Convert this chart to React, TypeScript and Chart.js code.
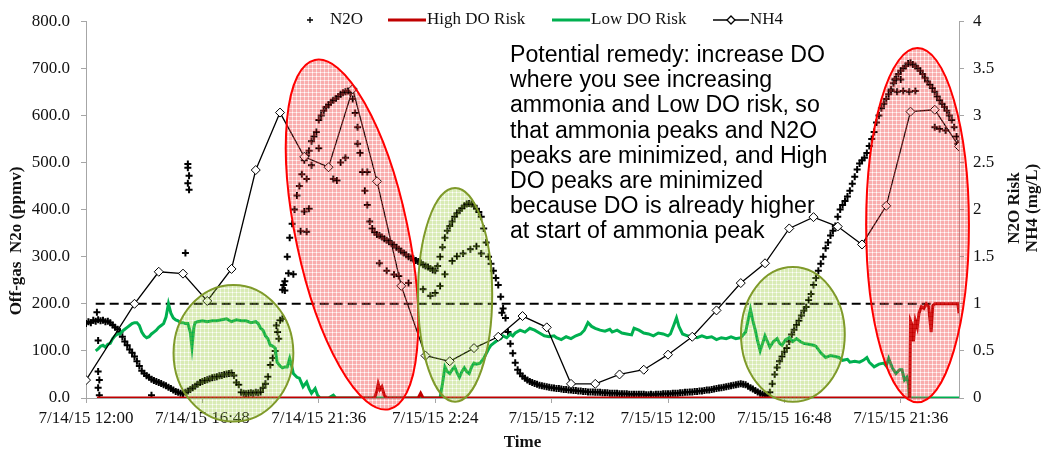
import React, { useEffect, useRef } from 'react';
import { Chart, registerables } from 'chart.js';

Chart.register(...registerables);

// Hours after 7/14/15 12:00
const xTickHours = [0, 4.8, 9.6, 14.4, 19.2, 24, 28.8, 33.6];

// N2O off-gas (ppmv), one reading every 0.1 h starting at hour 0
const n2oStart = 0;
const n2oStep = 0.1;
const n2oRegular = [
  158, 162, 160, 165, 163, 166, 164, 165, 162, 163,
  160, 155, 150, 146, 140, 130, 120, 112, 103, 96,
  88, 78, 68, 58, 52, 47, 44, 40, 37, 35,
  33, 31, 28, 26, 23, 20, 17, 14, 12, 10,
  9, 12, 15, 18, 22, 25, 29, 33, 35, 37,
  39, 41, 43, 44, 45, 47, 48, 50, 51, 52,
  53, 48, 33, 28, 12, 10, 9, 10, 11, 10,
  12, 11, 13, 22, 30, 45, 70, 85, 100, 140,
  165, 230, 248, 300, 340, 370, 400, 430, 450, 475,
  505, 515, 525, 545, 555, 565, 590, 600, 610, 618,
  622, 628, 632, 636, 640, 645, 648, 650, 652, 648,
  635, 605, 575, 520, 480, 440, 410, 375, 360, 352,
  347, 345, 342, 338, 335, 332, 328, 325, 320, 316,
  312, 308, 304, 300, 297, 295, 292, 290, 287, 283,
  280, 278, 275, 272, 270, 280, 300, 320, 340, 355,
  365, 375, 385, 392, 398, 403, 408, 412, 413, 412,
  408, 402, 395, 385, 360, 330, 300, 285, 270, 255,
  240, 215, 190, 170, 140, 115, 95, 75, 60, 52,
  46, 42, 38, 35, 33, 31, 29, 27, 26, 25,
  24, 23, 22, 21, 20, 20, 19, 18, 18, 17,
  17, 16, 16, 15, 15, 14, 14, 13, 13, 13,
  12, 12, 12, 11, 11, 11, 10, 10, 10, 10,
  9, 9, 9, 9, 8, 8, 8, 8, 8, 8,
  8, 7, 7, 8, 7, 8, 8, 8, 9, 9,
  9, 9, 10, 10, 10, 11, 11, 12, 12, 13,
  13, 14, 14, 15, 15, 16, 17, 17, 18, 19,
  20, 21, 22, 23, 24, 25, 26, 27, 28, 29,
  30, 29, 28, 25, 22, 19, 16, 13, 10, 8,
  6, 5, 12, 30, 50, 65, 78, 88, 98, 106,
  120, 135, 145, 155, 164, 175, 185, 193, 208, 221,
  240, 255, 270, 285, 300, 318, 330, 345, 355, 365,
  385, 400, 410, 418, 428, 440, 455, 470, 485, 498,
  505, 510, 520, 535, 550, 565, 585, 600, 615, 625,
  635, 645, 655, 668, 678, 688, 695, 700, 705, 710,
  712, 708, 705, 700, 695, 688, 680, 672, 665, 658,
  650, 640, 632, 625, 618, 610, 600, 590, 575, 555,
];

// Extra scattered N2O readings [hour, ppmv]
const n2oScatter: [number, number][] = [
  [0.45, 182], [0.5, 122], [0.5, 56], [0.55, 38], [0.5, 22], [0.55, 6], [2.7, 6],
  [4.1, 308], [4.2, 497], [4.2, 489], [4.25, 472], [4.2, 456], [4.25, 442],
  [7.85, 154], [7.95, 126], [8.1, 168], [8.15, 240], [8.2, 228], [8.35, 265], [8.55, 263],
  [8.85, 354], [9.0, 396], [9.1, 353], [9.2, 402], [9.3, 494], [9.1, 465], [9.6, 530],
  [10.2, 465], [10.35, 462], [10.5, 500], [10.7, 510], [11.2, 540], [11.6, 480],
  [12.1, 286], [12.4, 270], [12.7, 262], [12.9, 259], [13.3, 244],
  [13.9, 231], [14.2, 217], [14.4, 223], [14.6, 238], [14.8, 263], [15.1, 291],
  [15.3, 301], [15.55, 307], [15.85, 316], [16.1, 322], [16.3, 307], [17.15, 181],
  [33.2, 652], [33.45, 650], [33.7, 652], [33.95, 650], [34.2, 652], [33.35, 676], [33.6, 676],
  [35.0, 575], [35.2, 571], [35.45, 568], [35.95, 540],
];

// High DO risk [hour, risk]
const highDoRisk: [number, number][] = [
  [0.45, 0], [11.9, 0], [12.0, 0.08], [12.05, 0.15], [12.12, 0.09], [12.2, 0.12], [12.3, 0.03],
  [12.4, 0], [13.7, 0], [13.8, 0.05], [13.9, 0], [33.97, 0], [34.0, 0.82], [34.06, 0.78],
  [34.12, 0.6], [34.2, 0.82], [34.28, 0.75], [34.35, 0.9], [34.45, 0.97], [34.55, 0.95],
  [34.65, 1.0], [34.75, 0.97], [34.85, 0.7], [34.92, 0.98], [35.0, 1.0], [35.95, 1.0], [36.0, 0.9],
];

// Low DO risk [hour, risk]
const lowDoRisk: [number, number][] = [
  [0.4, 0.5], [0.5, 0.52], [0.6, 0.55], [0.7, 0.56], [0.8, 0.54], [0.9, 0.57], [1.0, 0.58],
  [1.1, 0.63], [1.2, 0.66], [1.3, 0.68], [1.4, 0.68], [1.5, 0.71], [1.6, 0.73], [1.7, 0.75],
  [1.8, 0.77], [1.9, 0.79], [2.0, 0.8], [2.1, 0.8], [2.2, 0.77], [2.3, 0.7], [2.4, 0.66],
  [2.5, 0.64], [2.6, 0.65], [2.7, 0.68], [2.8, 0.7], [2.9, 0.72], [3.0, 0.75], [3.1, 0.77],
  [3.2, 0.79], [3.3, 0.86], [3.4, 1.0], [3.5, 0.9], [3.6, 0.85], [3.7, 0.83], [3.8, 0.82],
  [3.9, 0.8], [4.0, 0.8], [4.1, 0.79], [4.2, 0.79], [4.3, 0.7], [4.37, 0.54], [4.45, 0.75],
  [4.5, 0.8], [4.6, 0.81], [4.8, 0.82], [5.0, 0.81], [5.2, 0.82], [5.4, 0.82], [5.6, 0.83],
  [5.8, 0.84], [6.0, 0.81], [6.2, 0.83], [6.4, 0.82], [6.6, 0.82], [6.8, 0.8], [7.0, 0.81],
  [7.1, 0.79], [7.2, 0.74], [7.3, 0.72], [7.4, 0.66], [7.5, 0.63], [7.6, 0.56], [7.7, 0.55],
  [7.8, 0.53], [7.88, 0.38], [8.0, 0.34], [8.1, 0.32], [8.2, 0.33], [8.3, 0.33], [8.4, 0.42],
  [8.5, 0.32], [8.55, 0.26], [8.7, 0.22], [8.8, 0.21], [8.95, 0.12], [9.1, 0.17], [9.2, 0.1],
  [9.3, 0.05], [9.45, 0.1], [9.55, 0.03], [9.65, 0], [10.0, 0], [10.2, 0.03], [10.3, 0],
  [14.6, 0], [14.7, 0.15], [14.8, 0.33], [14.9, 0.28], [15.0, 0.26], [15.1, 0.3], [15.2, 0.33],
  [15.3, 0.27], [15.4, 0.22], [15.5, 0.28], [15.6, 0.32], [15.7, 0.28], [15.8, 0.26],
  [15.9, 0.33], [16.0, 0.37], [16.1, 0.36], [16.25, 0.37], [16.4, 0.42], [16.5, 0.47],
  [16.6, 0.52], [16.7, 0.56], [16.8, 0.58], [16.9, 0.6], [17.0, 0.62], [17.1, 0.63],
  [17.2, 0.66], [17.35, 0.64], [17.5, 0.68], [17.6, 0.66], [17.7, 0.69], [17.9, 0.72],
  [18.1, 0.7], [18.3, 0.74], [18.5, 0.72], [18.7, 0.69], [18.9, 0.66], [19.1, 0.65],
  [19.3, 0.66], [19.4, 0.64], [19.6, 0.62], [19.8, 0.65], [20.0, 0.63], [20.2, 0.66],
  [20.4, 0.68], [20.55, 0.72], [20.7, 0.8], [20.85, 0.76], [21.0, 0.74], [21.2, 0.72],
  [21.4, 0.71], [21.6, 0.73], [21.7, 0.7], [21.9, 0.72], [22.1, 0.69], [22.3, 0.68],
  [22.5, 0.67], [22.6, 0.74], [22.8, 0.72], [23.0, 0.69], [23.2, 0.68], [23.4, 0.66],
  [23.6, 0.69], [23.8, 0.68], [24.0, 0.66], [24.1, 0.68], [24.25, 0.78], [24.35, 0.85],
  [24.45, 0.76], [24.6, 0.68], [24.8, 0.66], [25.0, 0.65], [25.2, 0.64], [25.4, 0.66],
  [25.6, 0.64], [25.8, 0.65], [26.0, 0.62], [26.2, 0.64], [26.4, 0.63], [26.6, 0.65],
  [26.8, 0.63], [27.0, 0.64], [27.2, 0.7], [27.3, 0.82], [27.4, 0.94], [27.5, 0.82],
  [27.6, 0.72], [27.7, 0.6], [27.8, 0.5], [27.9, 0.58], [28.0, 0.66], [28.1, 0.6],
  [28.2, 0.54], [28.35, 0.6], [28.5, 0.63], [28.6, 0.58], [28.7, 0.56], [28.85, 0.62],
  [29.0, 0.64], [29.15, 0.6], [29.3, 0.63], [29.45, 0.6], [29.6, 0.58], [29.8, 0.57],
  [30.0, 0.56], [30.1, 0.55], [30.3, 0.48], [30.5, 0.43], [30.7, 0.45], [30.9, 0.44],
  [31.05, 0.43], [31.2, 0.4], [31.4, 0.41], [31.5, 0.38], [31.7, 0.39], [31.9, 0.38],
  [32.05, 0.4], [32.2, 0.43], [32.3, 0.38], [32.5, 0.33], [32.7, 0.36], [32.9, 0.37],
  [33.0, 0.34], [33.1, 0.42], [33.25, 0.32], [33.4, 0.26], [33.55, 0.3], [33.65, 0.3],
  [33.75, 0.19], [33.85, 0.22], [33.92, 0.15], [33.95, 0], [36.0, 0],
];

// NH4 (mg/L) [hour, value]
const nh4: [number, number][] = [
  [0, 0.19], [2, 1.0], [3, 1.34], [4, 1.32], [5, 1.03], [6, 1.37], [7, 2.42], [8, 3.03],
  [9, 2.56], [10, 2.45], [11, 3.28], [12, 2.3], [13, 1.19], [14, 0.45], [15, 0.39], [16, 0.53],
  [17, 0.65], [18, 0.87], [19, 0.75], [20, 0.15], [21, 0.15], [22, 0.25], [23, 0.3], [24, 0.46],
  [25, 0.65], [26, 0.93], [27, 1.22], [28, 1.43], [29, 1.8], [30, 1.92], [31, 1.82], [32, 1.63],
  [33, 2.04], [34, 3.04], [35, 3.06], [36, 2.67],
];

// N2O risk threshold
const riskThreshold: [number, number][] = [[0.4, 1], [36, 1]];

const legendLabels = ['N2O', 'High DO Risk', 'Low DO Risk', 'NH4'];
const yLeftTitle = 'Off-gas  N2o (ppmv)';
const yRightTitle = ['N2O Risk', 'NH4 (mg/L)'];
const xTitle = 'Time';
const remedyLines = [
  'Potential remedy: increase DO',
  'where you see increasing',
  'ammonia and Low DO risk, so',
  'that ammonia peaks and N2O',
  'peaks are minimized, and High',
  'DO peaks are minimized',
  'because DO is already higher',
  'at start of ammonia peak',
];

// Highlight ellipses: centre (hour, ppmv), semi-axes (hours, ppmv), tilt in degrees
const highlightEllipses = [
  { cx: 10.97, cy: 347, rx: 2.31, ry: 379, rot: -12, kind: 'red' },
  { cx: 34.29, cy: 367, rx: 2.12, ry: 376, rot: 0, kind: 'red' },
  { cx: 6.08, cy: 95, rx: 2.47, ry: 145, rot: 0, kind: 'green' },
  { cx: 15.22, cy: 219, rx: 1.53, ry: 227, rot: 0, kind: 'green' },
  { cx: 29.15, cy: 135, rx: 2.14, ry: 143, rot: 0, kind: 'green' },
];

const SERIF = '"Liberation Serif", "Times New Roman", serif';
const AXIS_GRAY = '#a6a6a6';
const TEXT = '#111111';
const RED = '#c00000';
const GREEN = '#00b050';

const toXY = (arr: [number, number][]) => arr.map(([x, y]) => ({ x, y }));

function fmtTime(v: number): string {
  const total = Math.round(v * 60) + 12 * 60;
  const day = 14 + Math.floor(total / 1440);
  const m = total % 1440;
  const h = Math.floor(m / 60);
  const mm = m % 60;
  return `7/${day}/15 ${h}:${mm < 10 ? '0' + mm : mm}`;
}

function makePattern(ctx: CanvasRenderingContext2D, base: string) {
  const tile = document.createElement('canvas');
  tile.width = 4;
  tile.height = 4;
  const t = tile.getContext('2d')!;
  t.fillStyle = base;
  t.fillRect(0, 0, 4, 4);
  t.clearRect(0, 0, 4, 1);
  t.clearRect(0, 0, 1, 4);
  t.fillStyle = base.replace(/[\d.]+\)$/, '0.18)');
  t.fillRect(1, 0, 3, 1);
  t.fillRect(0, 1, 1, 3);
  return ctx.createPattern(tile, 'repeat')!;
}

const overlayPlugin = {
  id: 'overlay',
  afterDatasetsDraw(chart: any) {
    const ctx: CanvasRenderingContext2D = chart.ctx;
    const xs = chart.scales.x;
    const ys = chart.scales.y;
    const redPat = makePattern(ctx, 'rgba(240,60,60,0.42)');
    const greenPat = makePattern(ctx, 'rgba(150,200,50,0.36)');
    for (const e of highlightEllipses) {
      const cx = xs.getPixelForValue(e.cx);
      const cy = ys.getPixelForValue(e.cy);
      const rx = Math.abs(xs.getPixelForValue(e.cx + e.rx) - cx);
      const ry = Math.abs(ys.getPixelForValue(e.cy + e.ry) - cy);
      ctx.save();
      ctx.beginPath();
      ctx.ellipse(cx, cy, rx, ry, (e.rot * Math.PI) / 180, 0, Math.PI * 2);
      ctx.fillStyle = e.kind === 'red' ? redPat : greenPat;
      ctx.fill();
      ctx.lineWidth = 2;
      ctx.strokeStyle = e.kind === 'red' ? '#ff0000' : '#7f9a2a';
      ctx.stroke();
      ctx.restore();
    }
  },
  afterDraw(chart: any) {
    const ctx: CanvasRenderingContext2D = chart.ctx;
    const area = chart.chartArea;
    ctx.save();
    // Legend
    const ly = 20;
    ctx.font = `17px ${SERIF}`;
    ctx.textBaseline = 'middle';
    ctx.textAlign = 'left';
    ctx.fillStyle = TEXT;
    ctx.strokeStyle = '#000';
    ctx.lineWidth = 1.3;
    ctx.beginPath();
    ctx.moveTo(307, ly); ctx.lineTo(313, ly);
    ctx.moveTo(310, ly - 3); ctx.lineTo(310, ly + 3);
    ctx.stroke();
    ctx.fillText(legendLabels[0], 330, ly);
    ctx.lineWidth = 3;
    ctx.strokeStyle = RED;
    ctx.beginPath(); ctx.moveTo(388, ly); ctx.lineTo(426, ly); ctx.stroke();
    ctx.fillText(legendLabels[1], 427, ly);
    ctx.strokeStyle = GREEN;
    ctx.beginPath(); ctx.moveTo(552, ly); ctx.lineTo(590, ly); ctx.stroke();
    ctx.fillText(legendLabels[2], 591, ly);
    ctx.strokeStyle = '#000';
    ctx.lineWidth = 1.3;
    ctx.beginPath(); ctx.moveTo(713, ly); ctx.lineTo(749, ly); ctx.stroke();
    ctx.beginPath();
    ctx.moveTo(731, ly - 4); ctx.lineTo(735, ly); ctx.lineTo(731, ly + 4); ctx.lineTo(727, ly); ctx.closePath();
    ctx.fillStyle = '#fff'; ctx.fill(); ctx.stroke();
    ctx.fillStyle = TEXT;
    ctx.fillText(legendLabels[3], 750, ly);

    // Axis titles
    ctx.font = `bold 17px ${SERIF}`;
    ctx.textAlign = 'center';
    ctx.fillText(xTitle, (area.left + area.right) / 2, 443);
    ctx.save();
    ctx.translate(17, 241);
    ctx.rotate(-Math.PI / 2);
    ctx.fillText(yLeftTitle, 0, 0);
    ctx.restore();
    ctx.save();
    ctx.translate(1015, 208);
    ctx.rotate(-Math.PI / 2);
    ctx.fillText(yRightTitle[0], 0, 0);
    ctx.fillText(yRightTitle[1], 0, 18);
    ctx.restore();

    // Annotation text
    const fam = '"Liberation Sans", Arial, sans-serif';
    ctx.font = `100px ${fam}`;
    const w = ctx.measureText(remedyLines[0]).width;
    const size = (100 * 315) / w;
    ctx.font = `${size}px ${fam}`;
    ctx.textAlign = 'left';
    ctx.textBaseline = 'alphabetic';
    ctx.fillStyle = '#000';
    remedyLines.forEach((line, i) => ctx.fillText(line, 510, 62 + i * 25.2));
    ctx.restore();
  },
};

export default function App() {
  const ref = useRef<HTMLCanvasElement>(null);
  useEffect(() => {
    document.body.style.margin = '0';
    const n2oPoints = [
      ...n2oRegular.map((v, i) => ({ x: +(n2oStart + i * n2oStep).toFixed(2), y: v })),
      ...toXY(n2oScatter),
    ];
    const tickFont = { family: SERIF, size: 17 };
    const chart = new Chart(ref.current!, {
      type: 'line',
      data: {
        datasets: [
          {
            label: legendLabels[0], data: n2oPoints, yAxisID: 'y', showLine: false,
            pointStyle: 'cross', pointRadius: 3.5, pointBorderWidth: 2, borderColor: '#000',
            backgroundColor: '#000', order: 3,
          },
          {
            label: legendLabels[1], data: toXY(highDoRisk), yAxisID: 'y2', borderColor: RED,
            borderWidth: 3, pointRadius: 0, order: 1,
          },
          {
            label: legendLabels[2], data: toXY(lowDoRisk), yAxisID: 'y2', borderColor: GREEN,
            borderWidth: 3, pointRadius: 0, order: 2,
          },
          {
            label: legendLabels[3], data: toXY(nh4), yAxisID: 'y2', borderColor: '#000',
            borderWidth: 1.3, pointStyle: 'rectRot', pointRadius: 4.5, pointBorderWidth: 1,
            pointBackgroundColor: '#fff', pointBorderColor: '#000', order: 0,
          },
          {
            label: 'threshold', data: toXY(riskThreshold), yAxisID: 'y2', borderColor: '#000',
            borderWidth: 2, borderDash: [9, 5], pointRadius: 0, order: 4,
          },
        ] as any,
      },
      options: {
        animation: false,
        responsive: false,
        devicePixelRatio: 1,
        layout: { padding: { top: 18, left: 0, right: 0, bottom: 0 } },
        plugins: { legend: { display: false }, tooltip: { enabled: false } },
        scales: {
          x: {
            type: 'linear', min: 0, max: 36,
            afterBuildTicks: (s: any) => { s.ticks = xTickHours.map((v) => ({ value: v })); },
            afterFit: (s: any) => { s.height = 57; },
            ticks: {
              callback: (v: any) => fmtTime(Number(v)), maxRotation: 0, autoSkip: false,
              font: tickFont, color: TEXT, padding: 5,
            },
            grid: { drawOnChartArea: false, tickLength: 5, color: AXIS_GRAY },
            border: { color: AXIS_GRAY },
          },
          y: {
            type: 'linear', position: 'left', min: 0, max: 800,
            afterFit: (s: any) => { s.width = 86; },
            ticks: { stepSize: 100, callback: (v: any) => Number(v).toFixed(1), font: tickFont, color: TEXT, padding: 11 },
            grid: { drawOnChartArea: false, tickLength: 5, color: AXIS_GRAY },
            border: { color: AXIS_GRAY },
          },
          y2: {
            type: 'linear', position: 'right', min: 0, max: 4,
            afterFit: (s: any) => { s.width = 88; },
            ticks: { stepSize: 0.5, callback: (v: any) => String(Number(v)), font: tickFont, color: TEXT, padding: 9 },
            grid: { drawOnChartArea: false, tickLength: 5, color: AXIS_GRAY },
            border: { color: AXIS_GRAY },
          },
        },
      } as any,
      plugins: [overlayPlugin],
    });
    return () => chart.destroy();
  }, []);
  return (
    <div style={{ width: 1047, height: 455, background: '#fff' }}>
      <canvas ref={ref} width={1047} height={455} style={{ display: 'block' }} />
    </div>
  );
}
